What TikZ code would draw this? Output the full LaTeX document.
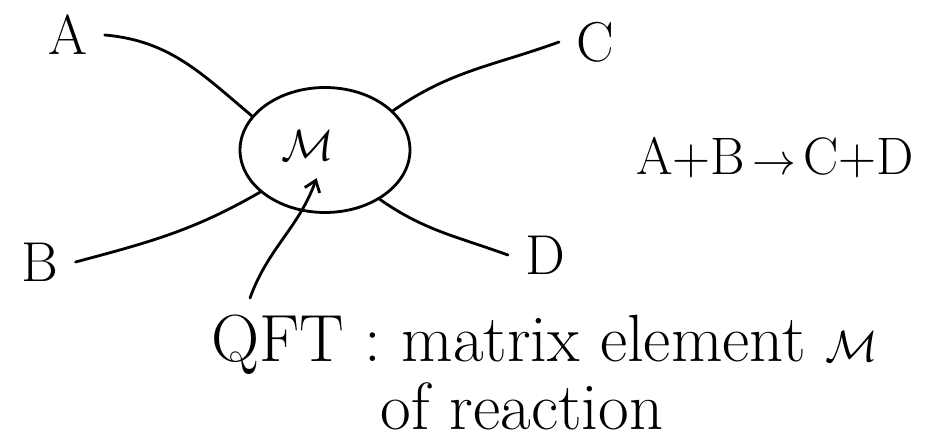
\documentclass[tikz,border=0pt]{standalone}
\usepackage{amsmath, amssymb}
\usetikzlibrary{shapes.geometric, arrows.meta}

\begin{document}
\begin{tikzpicture}[x=0.02cm, y=0.02cm, line width=1.6pt, line cap=round,
    lab/.style={font=\fontsize{32}{38}\selectfont, inner sep=9pt},
    txt/.style={font=\fontsize{38}{44}\selectfont}]
    \useasboundingbox (0,0) rectangle (946,440);
    \node[ellipse, draw, minimum width=3.4cm, minimum height=2.5cm] (blob) at (325,290) {};
    \node[lab, font=\fontsize{40}{46}\selectfont] (M) at (308,294) {$\mathcal{M}$};
    \node[lab] (A) at (68,405) {A};
    \node[lab] (C) at (595,398) {C};
    \node[lab] (B) at (40,178) {B};
    \node[lab] (D) at (545,185) {D};
    \node[lab, font=\fontsize{30}{36}\selectfont] (reac) at (775,282) {A+B$\,\to\,$C+D};
    \node[txt] (qft) at (545,95) {QFT : matrix element $\mathcal{M}$};
    \node[txt] (ofr) at (522,34) {of reaction};
    \coordinate (tail) at (250,142);
    \draw (A.east) to[out=-5,in=140] (blob.155);
    \draw (C.west) to[out=200,in=35] (blob.30);
    \draw (B.east) to[out=15,in=210] (blob.213);
    \draw (D.west) to[out=160,in=-35] (blob.-42);
    \draw[-{Straight Barb[length=6pt,width=9pt]}] (tail) to[out=70,in=-110] (M.-75);
\end{tikzpicture}
\end{document}
